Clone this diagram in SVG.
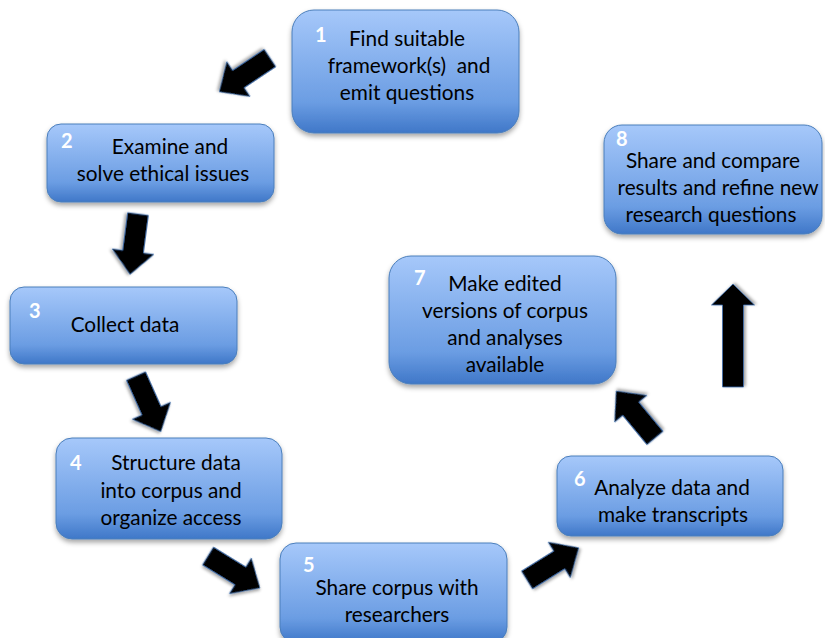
<svg xmlns="http://www.w3.org/2000/svg" width="825" height="638" viewBox="0 0 825 638">
<style>
.box{fill:url(#g);stroke:#4a7ebb;stroke-width:1;filter:url(#sh)}
.t{font-family:Lato,"Liberation Sans",sans-serif;font-size:20.8px;fill:#000;text-anchor:middle;white-space:pre}
.n{font-family:Lato,"Liberation Sans",sans-serif;font-size:20px;font-weight:bold;fill:#fff}
.ar{fill:#000;stroke:#3d6fb0;stroke-width:0.8;filter:url(#sh2)}
</style>
<defs>
<linearGradient id="g" x1="0" y1="0" x2="0" y2="1">
<stop offset="0" stop-color="#a6c8fa"/>
<stop offset="0.75" stop-color="#6b9de3"/>
<stop offset="1" stop-color="#3f77c8"/>
</linearGradient>
<filter id="sh" x="-10%" y="-10%" width="120%" height="130%">
<feDropShadow dx="0" dy="3" stdDeviation="2.5" flood-color="#000" flood-opacity="0.35"/>
</filter>
<filter id="sh2" x="-20%" y="-20%" width="140%" height="140%">
<feDropShadow dx="1" dy="2" stdDeviation="1.5" flood-color="#000" flood-opacity="0.35"/>
</filter>
<path id="as" d="M0,-10.5 L38,-10.5 L38,-21 L61,0 L38,21 L38,10.5 L0,10.5 Z"/>
<path id="al" d="M0,-10.5 L82,-10.5 L82,-21.5 L103,0 L82,21.5 L82,10.5 L0,10.5 Z"/>
</defs>
<rect width="825" height="638" fill="#fff"/>
<g id="connectors">
<use href="#as" class="ar" transform="translate(270,58) rotate(146.3)"/>
<use href="#as" class="ar" transform="translate(138,214) rotate(97.5)"/>
<use href="#as" class="ar" transform="translate(136,376) rotate(66)"/>
<use href="#as" class="ar" transform="translate(208,556) rotate(31.6)"/>
<use href="#as" class="ar" transform="translate(527,580) rotate(-31.9)"/>
<use href="#as" class="ar" transform="translate(655,438) rotate(230.4)"/>
<use href="#al" class="ar" transform="translate(733,387) rotate(-90)"/>
</g>
<g id="node1">
<rect class="box" x="292" y="10" width="227" height="123" rx="22"/>
<text class="n" x="315" y="42">1</text>
<text class="t" x="407" y="46">Find suitable</text>
<text class="t" x="409" y="73">framework(s)  and</text>
<text class="t" x="407" y="100">emit questions</text>
</g>
<g id="node2">
<rect class="box" x="47" y="124" width="227" height="78" rx="14"/>
<text class="n" x="61" y="148">2</text>
<text class="t" x="170" y="154">Examine and</text>
<text class="t" x="163" y="181">solve ethical issues</text>
</g>
<g id="node3">
<rect class="box" x="10" y="287" width="227" height="77" rx="14"/>
<text class="n" x="29" y="318">3</text>
<text class="t" x="125" y="332">Collect data</text>
</g>
<g id="node4">
<rect class="box" x="56" y="438" width="226" height="101" rx="16"/>
<text class="n" x="70" y="470">4</text>
<text class="t" x="176" y="470">Structure data</text>
<text class="t" x="171" y="498">into corpus and</text>
<text class="t" x="171" y="525">organize access</text>
</g>
<g id="node5">
<rect class="box" x="280" y="543" width="227" height="100" rx="16"/>
<text class="n" x="303" y="572">5</text>
<text class="t" x="397" y="595">Share corpus with</text>
<text class="t" x="397" y="622">researchers</text>
</g>
<g id="node6">
<rect class="box" x="557" y="456" width="226" height="80" rx="14"/>
<text class="n" x="574" y="486">6</text>
<text class="t" x="672" y="495">Analyze data and</text>
<text class="t" x="673" y="522">make transcripts</text>
</g>
<g id="node7">
<rect class="box" x="389" y="256" width="227" height="128" rx="22"/>
<text class="n" x="414" y="285">7</text>
<text class="t" x="505" y="291">Make edited</text>
<text class="t" x="505" y="318">versions of corpus</text>
<text class="t" x="505" y="345">and analyses</text>
<text class="t" x="505" y="372">available</text>
</g>
<g id="node8">
<rect class="box" x="604" y="125" width="218" height="109" rx="18"/>
<text class="n" x="616" y="146">8</text>
<text class="t" x="713" y="168">Share and compare</text>
<text class="t" x="718" y="195">results and refine new</text>
<text class="t" x="711" y="222">research questions</text>
</g>
</svg>
